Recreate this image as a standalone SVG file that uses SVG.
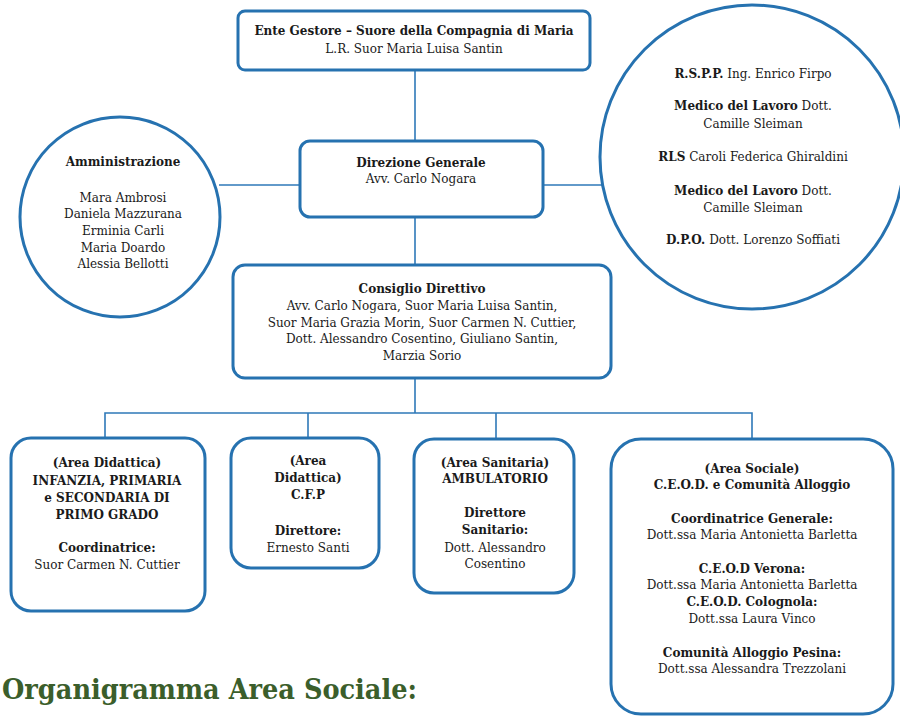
<svg xmlns="http://www.w3.org/2000/svg" width="900" height="716" viewBox="0 0 900 716">
<style>
.box{fill:#fff;stroke:#2672b0;stroke-width:3}
.ln{fill:none;stroke:#2e78b8;stroke-width:1.6}
text{font-family:"DejaVu Serif","Liberation Serif",serif;font-size:12px;fill:#1a1a1a;text-anchor:middle}
.b{font-weight:bold}
.t{font-family:"DejaVu Serif","Liberation Serif",serif;font-size:28px;font-weight:bold;fill:#3b5e2b;text-anchor:start}
</style>
<rect width="900" height="716" fill="#fff"/>
<g id="connectors">
<line class="ln" x1="415" y1="71" x2="415" y2="141"/>
<line class="ln" x1="219" y1="185" x2="300" y2="185"/>
<line class="ln" x1="543" y1="185" x2="602" y2="185"/>
<line class="ln" x1="415" y1="217" x2="415" y2="265"/>
<line class="ln" x1="415" y1="378" x2="415" y2="413"/>
<polyline class="ln" points="105,438 105,413 752,413 752,439"/>
<line class="ln" x1="308" y1="413" x2="308" y2="438"/>
<line class="ln" x1="496" y1="413" x2="496" y2="439"/>
</g>
<g id="ente">
<rect class="box" x="238" y="11" width="352" height="59" rx="7"/>
<text x="414" y="35" class="b">Ente Gestore – Suore della Compagnia di Maria</text>
<text x="414" y="53">L.R. Suor Maria Luisa Santin</text>
</g>
<g id="amministrazione">
<circle class="box" cx="120" cy="217" r="100"/>
<text x="123" y="166" class="b">Amministrazione</text>
<text x="123" y="202">Mara Ambrosi</text>
<text x="123" y="218">Daniela Mazzurana</text>
<text x="123" y="235">Erminia Carli</text>
<text x="123" y="252">Maria Doardo</text>
<text x="123" y="268">Alessia Bellotti</text>
</g>
<g id="sicurezza">
<circle class="box" cx="752" cy="157" r="152"/>
<text x="753" y="78"><tspan class="b">R.S.P.P.</tspan> Ing. Enrico Firpo</text>
<text x="753" y="110"><tspan class="b">Medico del Lavoro</tspan> Dott.</text>
<text x="753" y="128">Camille Sleiman</text>
<text x="753" y="161"><tspan class="b">RLS</tspan> Caroli Federica Ghiraldini</text>
<text x="753" y="195"><tspan class="b">Medico del Lavoro</tspan> Dott.</text>
<text x="753" y="212">Camille Sleiman</text>
<text x="753" y="244"><tspan class="b">D.P.O.</tspan> Dott. Lorenzo Soffiati</text>
</g>
<g id="direzione">
<rect class="box" x="300" y="141" width="243" height="76" rx="10"/>
<text x="421" y="167" class="b">Direzione Generale</text>
<text x="421" y="183">Avv. Carlo Nogara</text>
</g>
<g id="consiglio">
<rect class="box" x="233" y="265" width="378" height="113" rx="12"/>
<text x="422" y="293" class="b">Consiglio Direttivo</text>
<text x="422" y="310">Avv. Carlo Nogara, Suor Maria Luisa Santin,</text>
<text x="422" y="327">Suor Maria Grazia Morin, Suor Carmen N. Cuttier,</text>
<text x="422" y="343">Dott. Alessandro Cosentino, Giuliano Santin,</text>
<text x="422" y="360">Marzia Sorio</text>
</g>
<g id="didattica1">
<rect class="box" x="11" y="438" width="194" height="173" rx="20"/>
<text x="107" y="467" class="b">(Area Didattica)</text>
<text x="107" y="485" class="b">INFANZIA, PRIMARIA</text>
<text x="107" y="502" class="b">e SECONDARIA DI</text>
<text x="107" y="519" class="b">PRIMO GRADO</text>
<text x="107" y="552" class="b">Coordinatrice:</text>
<text x="107" y="569">Suor Carmen N. Cuttier</text>
</g>
<g id="didattica2">
<rect class="box" x="231" y="438" width="148" height="130" rx="20"/>
<text x="308" y="465" class="b">(Area</text>
<text x="308" y="482" class="b">Didattica)</text>
<text x="308" y="499" class="b">C.F.P</text>
<text x="308" y="535" class="b">Direttore:</text>
<text x="308" y="552">Ernesto Santi</text>
</g>
<g id="sanitaria">
<rect class="box" x="414" y="439" width="160" height="154" rx="20"/>
<text x="495" y="467" class="b">(Area Sanitaria)</text>
<text x="495" y="483" class="b">AMBULATORIO</text>
<text x="495" y="517" class="b">Direttore</text>
<text x="495" y="534" class="b">Sanitario:</text>
<text x="495" y="552">Dott. Alessandro</text>
<text x="495" y="568">Cosentino</text>
</g>
<g id="sociale">
<rect class="box" x="611" y="439" width="282" height="275" rx="30"/>
<text x="752" y="473" class="b">(Area Sociale)</text>
<text x="752" y="489" class="b">C.E.O.D. e Comunità Alloggio</text>
<text x="752" y="523" class="b">Coordinatrice Generale:</text>
<text x="752" y="539">Dott.ssa Maria Antonietta Barletta</text>
<text x="752" y="573" class="b">C.E.O.D Verona:</text>
<text x="752" y="589">Dott.ssa Maria Antonietta Barletta</text>
<text x="752" y="606" class="b">C.E.O.D. Colognola:</text>
<text x="752" y="623">Dott.ssa Laura Vinco</text>
<text x="752" y="657" class="b">Comunità Alloggio Pesina:</text>
<text x="752" y="673">Dott.ssa Alessandra Trezzolani</text>
</g>
<text class="t" x="2" y="699" textLength="415" lengthAdjust="spacingAndGlyphs">Organigramma Area Sociale:</text>
</svg>
